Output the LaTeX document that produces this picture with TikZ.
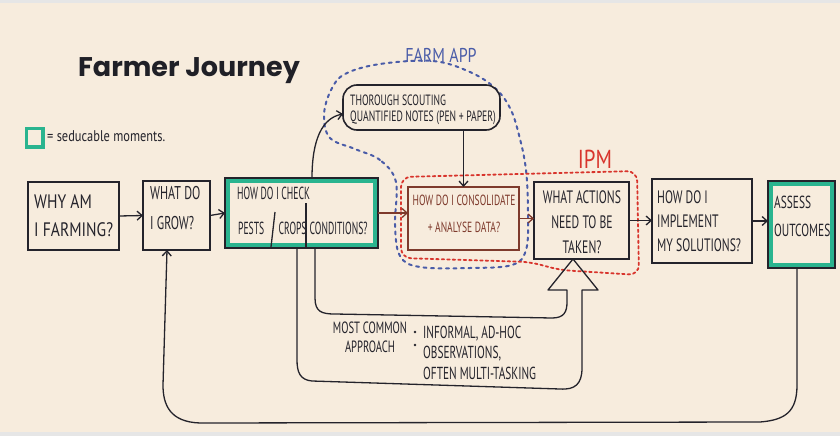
\documentclass[tikz,border=0pt]{standalone}
\usepackage{fontspec}
\setmainfont{PT Sans}
\newfontfamily\handA{PT Sans}[FakeStretch=0.55]
\newfontfamily\handB{PT Sans}[FakeStretch=0.65]
\newfontfamily\handC{PT Sans}[FakeStretch=0.8]
\newfontfamily\titlefont{Poppins}
\usetikzlibrary{arrows.meta}
\definecolor{paper}{HTML}{F7ECDD}
\definecolor{ink}{HTML}{24232B}
\definecolor{seduce}{HTML}{2AB48F}
\definecolor{appblue}{HTML}{4A5CA8}
\definecolor{ipmred}{HTML}{D8342C}
\definecolor{brownink}{HTML}{7E3A2C}
\definecolor{edgegray}{HTML}{E6E6E6}
\begin{document}
\begin{tikzpicture}[x=1pt,y=-1pt,
  box/.style={draw=ink, line width=1.6pt, inner sep=0pt, outer sep=0pt},
  greenbox/.style={draw=ink, line width=1.4pt, inner sep=0pt, outer sep=0pt},
  greenband/.style={draw=seduce, line width=5pt},
  txt/.style={text=ink, inner sep=0pt, font=\handB\fontsize{18}{25}\selectfont},
  arr/.style={draw=ink, line width=1.3pt, -{Straight Barb[length=5pt,width=9pt]}},
  wire/.style={draw=ink, line width=1.3pt},
  appline/.style={draw=appblue, line width=2pt, line cap=round, dash pattern=on 3pt off 4.5pt},
  ipmline/.style={draw=ipmred, line width=1.8pt, line cap=round, dash pattern=on 2.5pt off 3pt},
]
\useasboundingbox (0,0) rectangle (840,436);
\fill[paper] (0,0) rectangle (840,436);
\fill[edgegray] (0,0) rectangle (840,3);
\fill[edgegray] (0,432) rectangle (840,436);

% title and legend
\node[anchor=base west, inner sep=0pt, text=ink!90!black, font=\titlefont\bfseries\fontsize{27}{30}\selectfont] (title) at (78,77) {Farmer Journey};
\draw[greenband, line width=3.5pt] (26.5,128.5) rectangle (43,147);
\node[txt, anchor=west, font=\handC\fontsize{15.5}{17}\selectfont] (legtxt) at (47,136) {= seducable moments.};

% group outlines
\draw[appline] plot[smooth cycle, tension=0.6] coordinates {(396,182) (380,160) (355,149) (330,138) (324,115) (331,90) (345,74) (380,64) (433,61) (470,72) (495,88) (510,108) (519,135) (526,170) (528,215) (526,250) (512,265) (470,268) (420,267) (400,256) (395,225)};
\draw[ipmline, rounded corners=10pt] (401,220) -- (401,177) -- (637,171) -- (639,275) -- (560,270) -- (530,262) -- (401,258) -- cycle;
\node[txt, text=appblue, font=\handC\fontsize{20}{22}\selectfont] (farmapp) at (441,55) {FARM APP};
\node[txt, text=ipmred, font=\handC\fontsize{26}{28}\selectfont] (ipm) at (595,159) {IPM};

% boxes
\node[box, minimum width=91pt, minimum height=68pt] (b1) at (73.5,216) {};
\node[box, minimum width=67pt, minimum height=69pt] (b2) at (176.5,215.5) {};
\draw[greenband] (227.5,180.5) rectangle (375.5,245.5);
\node[greenbox, minimum width=153pt, minimum height=70pt] (b3) at (301.5,213) {};
\node[box, draw=brownink, line width=1.3pt, minimum width=111pt, minimum height=63pt] (cons) at (463.5,218.5) {};
\node[box, minimum width=95pt, minimum height=77pt] (act) at (581.5,220.5) {};
\node[box, minimum width=100pt, minimum height=84pt] (impl) at (702,221) {};
\draw[greenband] (770.5,183.5) rectangle (832.5,265.5);
\node[greenbox, minimum width=67pt, minimum height=87pt] (assess) at (801.5,224.5) {};
\node[box, rounded corners=14pt, minimum width=157pt, minimum height=45pt] (cloud) at (421.5,107.5) {};

% texts
\node[txt, anchor=west, align=left, font=\handC\fontsize{19.5}{28}\selectfont] (t1) at (34,216) {WHY AM\\I FARMING?};
\node[txt, anchor=west, align=left, font=\handB\fontsize{18.5}{30}\selectfont] (t2) at (150,208) {WHAT DO\\I GROW?};
\node[txt, anchor=west, font=\handA\fontsize{17.5}{22}\selectfont] (t3a) at (237,193) {HOW DO I CHECK};
\node[txt, anchor=west, font=\handA\fontsize{17.5}{22}\selectfont] (t3b) at (238,228) {PESTS};
\node[txt, anchor=west, font=\handA\fontsize{17.5}{22}\selectfont] (t3c) at (278.5,228) {CROPS};
\node[txt, anchor=west, font=\handA\fontsize{17.5}{22}\selectfont] (t3d) at (309.5,228) {CONDITIONS?};
\draw[wire] (275,212) -- (271,247);
\draw[wire] (306,203) -- (306,247);
\node[txt, text=brownink, align=center, font=\handB\fontsize{14.7}{27}\selectfont] (tc) at (464,213.5) {HOW DO I CONSOLIDATE\\+ ANALYSE DATA?};
\node[txt, align=center, font=\handB\fontsize{18}{25}\selectfont] (ta) at (582,222) {WHAT ACTIONS\\NEED TO BE\\TAKEN?};
\node[txt, anchor=west, align=left, font=\handB\fontsize{18}{24}\selectfont] (ti) at (657,221) {HOW DO I\\IMPLEMENT\\MY SOLUTIONS?};
\node[txt, anchor=west, align=left, font=\handB\fontsize{17.5}{28}\selectfont] (ts) at (774,216) {ASSESS\\OUTCOMES};
\node[txt, anchor=west, align=left, font=\handB\fontsize{14.9}{16}\selectfont] (tcl) at (350,110) {THOROUGH SCOUTING\\QUANTIFIED NOTES (PEN + PAPER)};
\node[txt, align=center, font=\handB\fontsize{16.3}{19}\selectfont] (most) at (370,337.5) {MOST COMMON\\APPROACH};
\fill[ink] (415,332) circle (1.3);
\fill[ink] (415,345) circle (1.3);
\node[txt, anchor=west, align=left, font=\handB\fontsize{17.4}{20.5}\selectfont] (appr) at (423,352.5) {INFORMAL, AD-HOC\\OBSERVATIONS,\\OFTEN MULTI-TASKING};

% connectors
\draw[arr] (b1.east) -- (b2.west);
\draw[arr] (b2.east) -- (b3.west);
\draw[arr, draw=brownink] (b3.east) -- (b3.east -| cons.west);
\draw[arr, draw=brownink] (cons.east) -- (cons.east -| act.west);
\draw[arr] (act.east) -- (act.east -| impl.west);
\draw[arr] (impl.east) -- (impl.east -| assess.west);
\draw[arr] ([xshift=10.5pt]b3.north) .. controls (312,140) and (322,118) .. ([yshift=-6.5pt]cloud.west);
\draw[arr] (cloud.south -| cons.north) -- (cons.north);
\coordinate (tip) at ([xshift=-8.5pt]act.south);
\draw[wire, line join=round] ([xshift=13.5pt]b3.south) -- (315,298) .. controls (315,312) and (322,314) .. (335,314) -- (552,318) .. controls (564,318) and (567,312) .. (567,302) -- (567,290) -- (548,290) -- (tip) -- (598,290) -- (582,290) -- (582,368) .. controls (582,384) and (575,390) .. (560,389) -- (312,381) .. controls (300,380) and (297,372) .. (297,360) -- ([xshift=-4.5pt]b3.south);
\draw[arr] ([xshift=-4.5pt]assess.south) -- (797,385) .. controls (797,412) and (785,420) .. (760,422) -- (200,423) .. controls (170,422) and (163,405) .. (163,385) -- ([xshift=-9.5pt]b2.south);
\end{tikzpicture}
\end{document}
